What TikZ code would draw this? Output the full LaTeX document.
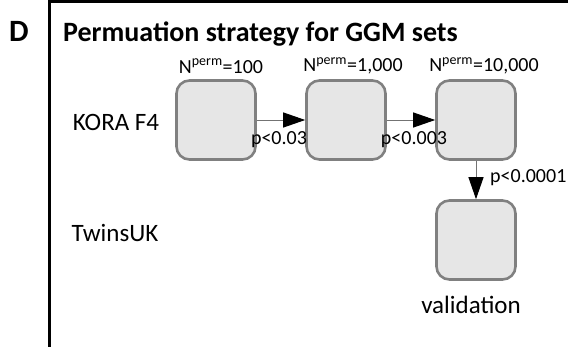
\documentclass[tikz,border=0pt]{standalone}
\usepackage{fontspec}
\setmainfont{Carlito}
\usetikzlibrary{arrows.meta}
\definecolor{boxfill}{HTML}{E6E6E6}
\definecolor{boxline}{HTML}{808080}
\tikzset{
  pbox/.style={draw=boxline, fill=boxfill, line width=2.6pt, rounded corners=13pt, minimum width=79pt, minimum height=79pt, inner sep=0pt},
  parrow/.style={draw=black!55, line width=0.9pt, -{Triangle[length=22pt,width=15pt,color=black,fill=black]}},
  lbl/.style={font=\fontsize{25}{28}\selectfont, inner sep=0pt},
  nlbl/.style={font=\fontsize{20}{22}\selectfont, inner sep=0pt},
  plbl/.style={font=\fontsize{20}{22}\selectfont, inner sep=0pt}
}
\begin{document}
\begin{tikzpicture}[x=1pt,y=-1pt]
\useasboundingbox (0,0) rectangle (568,347);
\draw[line width=3pt] (49.5,347) -- (49.5,1.5) -- (568,1.5);
\node[font=\fontsize{31}{34}\selectfont\bfseries, inner sep=0pt, anchor=base west] (D) at (9,42) {D};
\node[font=\fontsize{28}{32}\selectfont\bfseries, inner sep=0pt, anchor=base west] (title) at (63,42) {Permuation strategy for GGM sets};
\node[pbox] (b1) at (216,120) {};
\node[pbox] (b2) at (346,120) {};
\node[pbox] (b3) at (476,120) {};
\node[pbox] (b4) at (476,240) {};
\node[nlbl] (n1) at (221,66) {N\textsuperscript{perm}=100};
\node[nlbl] (n2) at (353,66) {N\textsuperscript{perm}=1,000};
\node[nlbl] (n3) at (484,66) {N\textsuperscript{perm}=10,000};
\node[lbl] (kora) at (116,122) {KORA F4};
\node[lbl] (twins) at (115,233) {TwinsUK};
\node[lbl] (valid) at (471,305) {validation};
\draw[parrow] (b1.east) -- (b2.west);
\draw[parrow] (b2.east) -- (b3.west);
\draw[parrow] (b3.south) -- (b4.north);
\node[plbl] (p1) at (279,140) {p<0.03};
\node[plbl] (p2) at (414,140) {p<0.003};
\node[plbl, anchor=west] (p3) at (490,178) {p<0.0001};
\end{tikzpicture}
\end{document}
